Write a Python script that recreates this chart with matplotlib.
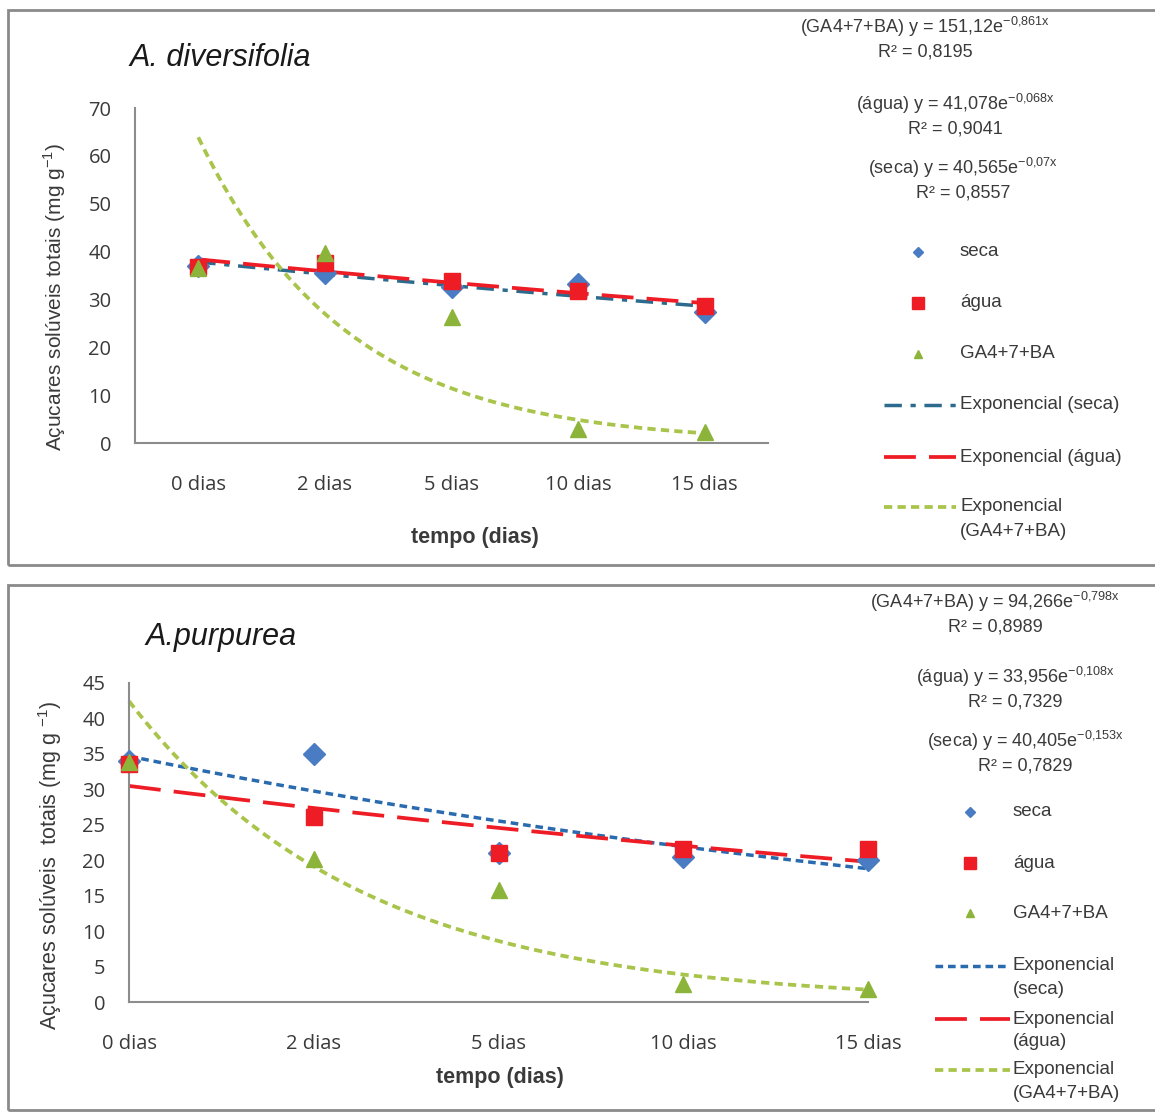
import matplotlib
matplotlib.use("Agg")
import matplotlib.pyplot as plt
from matplotlib.lines import Line2D
from matplotlib.patches import Rectangle
import numpy as np

# ---- data ----
categorias = ["0 dias", "2 dias", "5 dias", "10 dias", "15 dias"]
x_cat = [1, 2, 3, 4, 5]

# A. diversifolia
div_seca = [36.9, 35.6, 32.6, 33.2, 27.4]
div_agua = [36.8, 37.6, 33.8, 31.7, 28.7]
div_ga = [36.6, 39.8, 26.4, 3.0, 2.4]
div_a = [40.565, 41.078, 151.12]      # seca, agua, GA
div_b = [-0.07, -0.068, -0.861]
div_r2 = ["0,8557", "0,9041", "0,8195"]

# A. purpurea
pur_seca = [34.0, 35.0, 21.0, 20.5, 20.0]
pur_agua = [33.6, 26.1, 21.0, 21.6, 21.6]
pur_ga = [33.8, 20.2, 15.8, 2.5, 1.9]
pur_a = [40.405, 33.956, 94.266]
pur_b = [-0.153, -0.108, -0.798]
pur_r2 = ["0,7829", "0,7329", "0,8989"]

W, H = 1155, 1115
fig = plt.figure(figsize=(W / 100, H / 100), dpi=100)
fig.patch.set_facecolor("white")


def fx(x):
    return x / W


def fy(y):
    return 1 - y / H


C_SECA = "#4A7CC4"
C_AGUA = "#EE1C25"
C_GA = "#8DB43A"
C_TGA = "#A9C44A"
TXT = "#3a3a3a"
TICKFONT = "Open Sans"
ARIAL = "Liberation Sans"


def panel(box, ax_box, ylim, yticks, xlim, seca, agua, ga, a, b, seca_style, seca_tcol):
    # panel border
    x0, y0, x1, y1 = box
    fig.add_artist(Rectangle((fx(x0), fy(y1)), fx(x1 - x0), (y1 - y0) / H,
                             transform=fig.transFigure, fill=False,
                             edgecolor="#8a8a8a", linewidth=2))
    l, t, r, btm = ax_box
    ax = fig.add_axes([fx(l), fy(btm), fx(r - l), (btm - t) / H])
    ax.set_facecolor("none")
    xs = np.linspace(1, 5, 200)
    ax.plot(xs, a[0] * np.exp(b[0] * xs), color=seca_tcol, lw=2.5,
            linestyle=seca_style, zorder=2)
    ax.plot(xs, a[1] * np.exp(b[1] * xs), color=C_AGUA, lw=2.7,
            linestyle=(0, (8.5, 3.5)), zorder=2)
    ax.plot(xs, a[2] * np.exp(b[2] * xs), color=C_TGA, lw=2.7,
            linestyle=(0, (2.2, 1.4)), zorder=2)
    ax.plot(x_cat, seca, linestyle="none", marker="D", ms=11, color=C_SECA, zorder=3)
    ax.plot(x_cat, agua, linestyle="none", marker="s", ms=12, color=C_AGUA, zorder=4)
    ax.plot(x_cat, ga, linestyle="none", marker="^", ms=11, color=C_GA, zorder=5)
    ax.set_xlim(*xlim)
    ax.set_ylim(*ylim)
    ax.set_yticks(yticks)
    ax.set_xticks(x_cat)
    ax.set_xticklabels(categorias)
    for s in ["top", "right"]:
        ax.spines[s].set_visible(False)
    for s in ["left", "bottom"]:
        ax.spines[s].set_color("#8c8c8c")
        ax.spines[s].set_linewidth(1.5)
    ax.tick_params(length=0, labelsize=14.5, colors=TXT)
    ax.tick_params(axis="x", pad=23)
    ax.tick_params(axis="y", pad=17)
    for lab in ax.get_xticklabels() + ax.get_yticklabels():
        lab.set_family(TICKFONT)
    for ln in ax.lines:
        ln.set_clip_on(False)
    return ax


def legend(entries, xl0, xl1, xm, xt, seca_style, seca_tcol):
    # entries: list of (kind, [(y, text), ...])
    for kind, lines in entries:
        y = lines[0][0]
        if kind == "seca":
            fig.add_artist(Line2D([fx(xm)], [fy(y)], marker="D", ms=5, color=C_SECA,
                                  transform=fig.transFigure))
        elif kind == "agua":
            fig.add_artist(Line2D([fx(xm)], [fy(y)], marker="s", ms=8, color=C_AGUA,
                                  transform=fig.transFigure))
        elif kind == "ga":
            fig.add_artist(Line2D([fx(xm)], [fy(y)], marker="^", ms=6, color=C_GA,
                                  transform=fig.transFigure))
        else:
            style = {"tseca": (seca_tcol, seca_style, 2.5),
                     "tagua": (C_AGUA, (0, (8.5, 3.5)), 2.7),
                     "tga": (C_TGA, (0, (2.2, 1.4)), 2.7)}[kind]
            fig.add_artist(Line2D([fx(xl0), fx(xl1)], [fy(y), fy(y)], color=style[0],
                                  linestyle=style[1], lw=style[2],
                                  transform=fig.transFigure))
        for yy, txt in lines:
            fig.text(fx(xt), fy(yy), txt, fontsize=13.5, family=ARIAL, color=TXT,
                     ha="left", va="center")


def equations(items):
    for xc, y, lab, a, b, r2 in items:
        bs = ("%g" % b).replace(".", "{,}")
        a_s = ("%g" % a).replace(".", ",")
        fig.text(fx(xc), fy(y), lab + " y = " + a_s + "e" + r"$^{\mathregular{" + bs + "x}}$",
                 fontsize=13, family=ARIAL, color=TXT, ha="center", va="center")
        fig.text(fx(xc), fy(y + 25), "R² = " + r2, fontsize=13, family=ARIAL,
                 color=TXT, ha="center", va="center")


plt.rcParams["mathtext.fontset"] = "custom"
plt.rcParams["mathtext.rm"] = ARIAL

# ---- top panel: A. diversifolia ----
seca_top_style = (0, (5, 2.5, 1.5, 2.5))
seca_top_col = "#2C6B8E"
panel((8, 10, 1165, 565), (135, 108, 768, 443), (0, 70), range(0, 71, 10), (0.5, 5.5),
      div_seca, div_agua, div_ga, div_a, div_b, seca_top_style, seca_top_col)
fig.text(fx(130), fy(58), "A. diversifolia", fontsize=22, style="italic", family=ARIAL,
         color="#1a1a1a", ha="left", va="center")
fig.text(fx(55), fy(297), r"Açucares solúveis totais (mg g$^{\mathregular{-1}}$)",
         fontsize=15, family=ARIAL, color=TXT, rotation=90, ha="center", va="center")
fig.text(fx(475), fy(538), "tempo (dias)", fontsize=15.5, family=ARIAL, weight="bold",
         color=TXT, ha="center", va="center")
equations([(925, 27, "(GA4+7+BA)", div_a[2], div_b[2], div_r2[2]),
           (955, 104, "(água)", div_a[1], div_b[1], div_r2[1]),
           (963, 168, "(seca)", div_a[0], div_b[0], div_r2[0])])
legend([("seca", [(252, "seca")]),
        ("agua", [(303, "água")]),
        ("ga", [(354, "GA4+7+BA")]),
        ("tseca", [(405, "Exponencial (seca)")]),
        ("tagua", [(457, "Exponencial (água)")]),
        ("tga", [(507, "Exponencial"), (531, "(GA4+7+BA)")])],
       884, 956, 918, 960, seca_top_style, seca_top_col)

# ---- bottom panel: A. purpurea ----
seca_bot_style = (0, (2.2, 1.4))
seca_bot_col = "#2A6BB0"
panel((8, 585, 1165, 1110), (129, 683, 868, 1002), (0, 45), range(0, 46, 5), (1, 5),
      pur_seca, pur_agua, pur_ga, pur_a, pur_b, seca_bot_style, seca_bot_col)
fig.text(fx(145), fy(637), "A.purpurea", fontsize=22, style="italic", family=ARIAL,
         color="#1a1a1a", ha="left", va="center")
fig.text(fx(50), fy(865), r"Açucares solúveis  totais (mg g $^{\mathregular{-1}}$)",
         fontsize=15.5, family=ARIAL, color=TXT, rotation=90, ha="center", va="center")
fig.text(fx(500), fy(1077), "tempo (dias)", fontsize=15.5, family=ARIAL, weight="bold",
         color=TXT, ha="center", va="center")
equations([(995, 602, "(GA4+7+BA)", pur_a[2], pur_b[2], pur_r2[2]),
           (1015, 677, "(água)", pur_a[1], pur_b[1], pur_r2[1]),
           (1025, 741, "(seca)", pur_a[0], pur_b[0], pur_r2[0])])
legend([("seca", [(812, "seca")]),
        ("agua", [(863, "água")]),
        ("ga", [(913, "GA4+7+BA")]),
        ("tseca", [(966, "Exponencial"), (990, "(seca)")]),
        ("tagua", [(1019, "Exponencial"), (1042, "(água)")]),
        ("tga", [(1070, "Exponencial"), (1093, "(GA4+7+BA)")])],
       935, 1010, 970, 1013, seca_bot_style, seca_bot_col)

fig.savefig("out.png", dpi=100, facecolor="white")
